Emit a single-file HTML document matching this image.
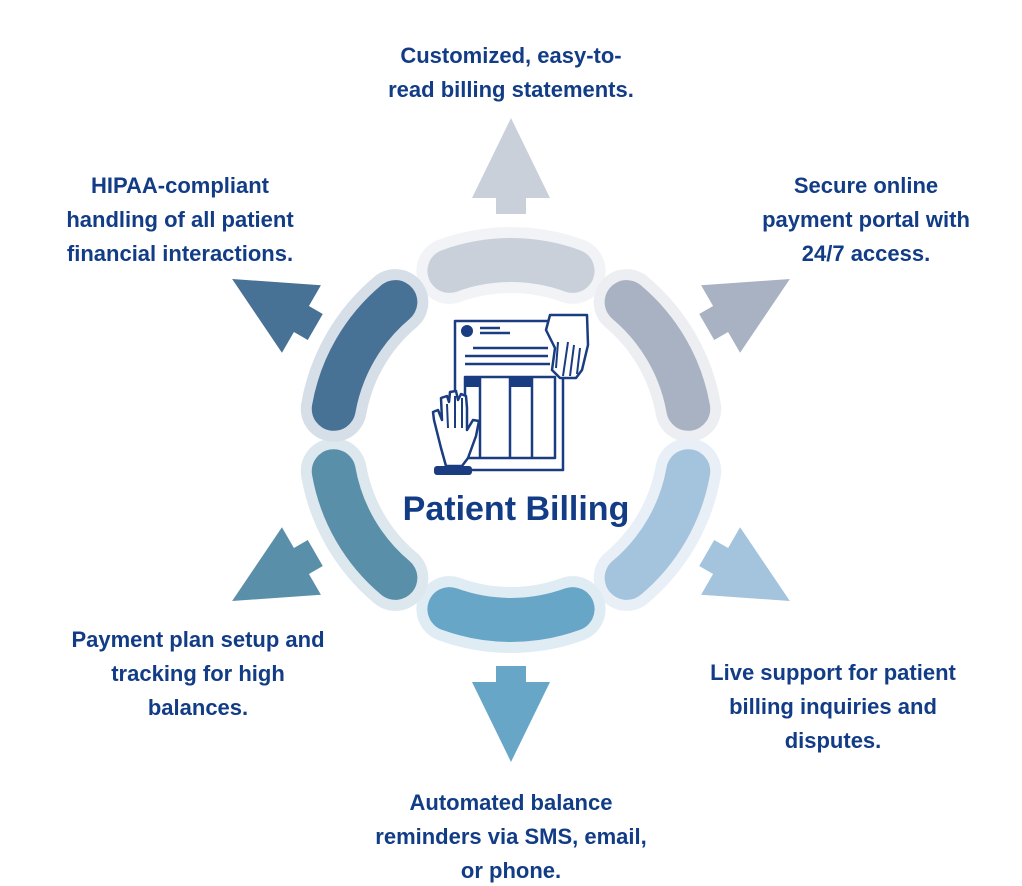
<!DOCTYPE html>
<html><head><meta charset="utf-8"><style>
html,body{margin:0;padding:0;background:#fff;}
svg{display:block;}
text{font-family:"Liberation Sans",sans-serif;font-weight:bold;fill:#123d86;}
</style></head><body>
<svg width="1022" height="886" viewBox="0 0 1022 886" xmlns="http://www.w3.org/2000/svg">
<defs>
<path id="arc" d="M 449.4 270.9 A 180 180 0 0 1 572.6 270.9" fill="none" stroke-linecap="round"/>
<path id="arr" d="M 496 214 L 496 198 L 472 198 L 511 118 L 550 198 L 526 198 L 526 214 Z"/>
</defs>
<g stroke-width="66">
<use href="#arc" stroke="#f1f3f6" transform="rotate(0 511 440)"/>
<use href="#arc" stroke="#eceef2" transform="rotate(60 511 440)"/>
<use href="#arc" stroke="#e8eff6" transform="rotate(120 511 440)"/>
<use href="#arc" stroke="#e0ecf3" transform="rotate(180 511 440)"/>
<use href="#arc" stroke="#dce7ee" transform="rotate(240 511 440)"/>
<use href="#arc" stroke="#d6dfe8" transform="rotate(300 511 440)"/>
</g>
<g stroke-width="44">
<use href="#arc" stroke="#c9d0da" transform="rotate(0 511 440)"/>
<use href="#arc" stroke="#a9b2c2" transform="rotate(60 511 440)"/>
<use href="#arc" stroke="#a4c3dc" transform="rotate(120 511 440)"/>
<use href="#arc" stroke="#68a6c7" transform="rotate(180 511 440)"/>
<use href="#arc" stroke="#5a8fa9" transform="rotate(240 511 440)"/>
<use href="#arc" stroke="#487196" transform="rotate(300 511 440)"/>
</g>
<use href="#arr" fill="#c9d0da" transform="rotate(0 511 440)"/>
<use href="#arr" fill="#a9b2c2" transform="rotate(60 511 440)"/>
<use href="#arr" fill="#a4c3dc" transform="rotate(120 511 440)"/>
<use href="#arr" fill="#68a6c7" transform="rotate(180 511 440)"/>
<use href="#arr" fill="#5a8fa9" transform="rotate(240 511 440)"/>
<use href="#arr" fill="#487196" transform="rotate(300 511 440)"/>
<!-- icon -->
<g fill="none" stroke="#1a3c80" stroke-width="2.5" stroke-linejoin="round">
<rect x="455" y="321" width="108" height="149" fill="#fff"/>
<rect x="465" y="377" width="90" height="81" fill="#fff"/>
<line x1="510" y1="377" x2="510" y2="458"/>
<line x1="532" y1="377" x2="532" y2="458"/>
<line x1="480" y1="377" x2="480" y2="458"/>
<line x1="480" y1="328" x2="500" y2="328"/>
<line x1="480" y1="333" x2="510" y2="333"/>
<line x1="473" y1="348" x2="548" y2="348"/>
<line x1="465" y1="356" x2="548" y2="356"/>
<line x1="465" y1="364" x2="550" y2="364"/>
<path d="M550 315 L587 315 L588 345 L582 370 L576 378 L560 378 L552 370 L555 348 L550 338 L546 330 Z" fill="#fff"/>
<path d="M556 368 L558 342 M563 376 L568 342 M570 376 L574 345 M577 374 L580 348" stroke-width="2"/>
<path d="M446 466 L441 448 L434 420 L433 412 L438 410 L442 420 L441 398 L447 396 L449 402 L450 392 L456 391 L458 400 L461 394 L466 396 L467 408 L467 430 L473 420 L479 421 L476 436 L468 458 L462 466 Z" fill="#fff"/>
<path d="M447 404 L448 428 M455 396 L455 428 M462 398 L462 428" stroke-width="2"/>
</g>
<rect x="465" y="377" width="14" height="10" fill="#1a3c80"/>
<rect x="510" y="377" width="22" height="10" fill="#1a3c80"/>
<circle cx="467" cy="331" r="6" fill="#1a3c80"/>
<rect x="434" y="466" width="38" height="9" rx="3" fill="#1a3c80"/>
<text x="516" y="520" font-size="34" text-anchor="middle">Patient Billing</text>
<g font-size="22" text-anchor="middle">
<text x="511" y="63">Customized, easy-to-</text>
<text x="511" y="97">read billing statements.</text>
<text x="180" y="193">HIPAA-compliant</text>
<text x="180" y="227">handling of all patient</text>
<text x="180" y="261">financial interactions.</text>
<text x="866" y="193">Secure online</text>
<text x="866" y="227">payment portal with</text>
<text x="866" y="261">24/7 access.</text>
<text x="198" y="647">Payment plan setup and</text>
<text x="198" y="681">tracking for high</text>
<text x="198" y="715">balances.</text>
<text x="833" y="680">Live support for patient</text>
<text x="833" y="714">billing inquiries and</text>
<text x="833" y="748">disputes.</text>
<text x="511" y="810">Automated balance</text>
<text x="511" y="844">reminders via SMS, email,</text>
<text x="511" y="878">or phone.</text>
</g>
</svg>
</body></html>
